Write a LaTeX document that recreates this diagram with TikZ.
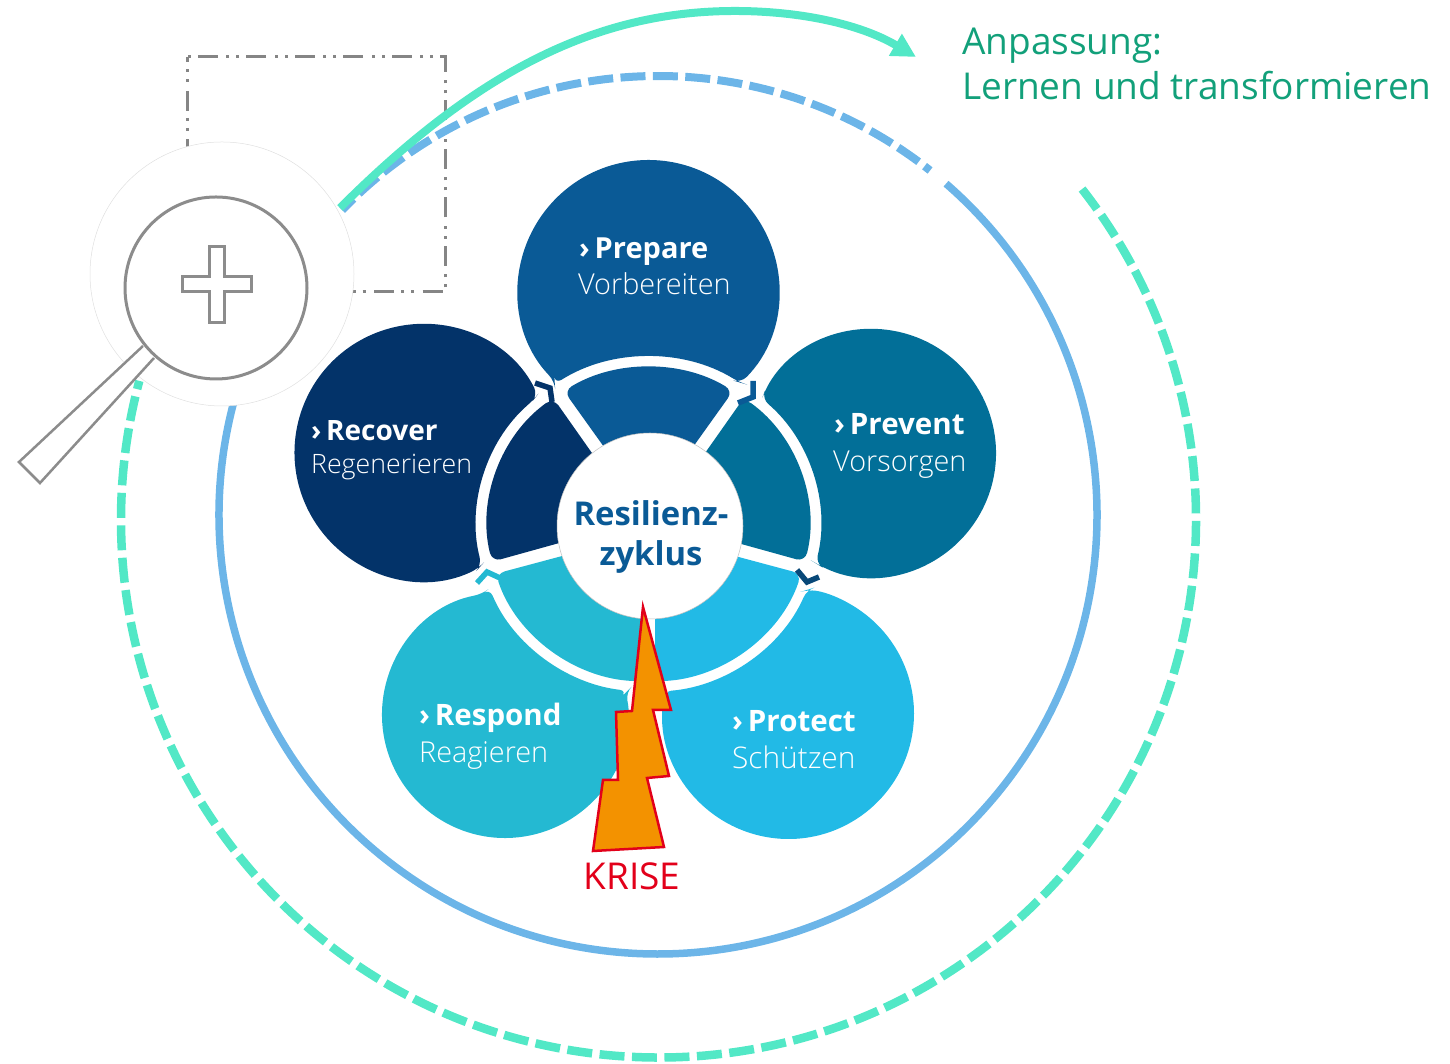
\documentclass[tikz,border=0pt]{standalone}
\usepackage{fontspec}
\setmainfont{Open Sans}
\newfontfamily\lightfont{Open Sans Light}
\usetikzlibrary{arrows.meta,calc}
\definecolor{prepcol}{HTML}{0A5A96}
\definecolor{recocol}{HTML}{033369}
\definecolor{prevcol}{HTML}{026F98}
\definecolor{respcol}{HTML}{24B9D2}
\definecolor{protcol}{HTML}{22BAE6}
\definecolor{loopblue}{HTML}{6CB5E8}
\definecolor{loopgreen}{HTML}{52E8C6}
\definecolor{adapttext}{HTML}{12A07A}
\definecolor{krisered}{HTML}{E2001A}
\definecolor{kriseorange}{HTML}{F39200}
\definecolor{lensgrey}{HTML}{8C8C8C}
\tikzset{
 head/.style={anchor=base west, inner sep=0pt, text=white, font=\fontsize{29.5}{32}\selectfont\bfseries},
 sub/.style={anchor=base west, inner sep=0pt, text=white, font=\fontsize{28.8}{32}\selectfont\lightfont},
 hub/.style={anchor=base, inner sep=0pt, text=prepcol, font=\fontsize{32.8}{36}\selectfont\bfseries},
 adapt/.style={anchor=base west, inner sep=0pt, text=adapttext, font=\fontsize{37}{40}\selectfont},
 chevron/.style={line width=5.5pt, miter limit=10}
}
\begin{document}
\begin{tikzpicture}[x=1pt,y=1pt]
 \useasboundingbox (0,0) rectangle (1450,1064);
 % zoom window
 \draw[lensgrey!95!black, line width=3pt, dash pattern=on 20pt off 7pt on 3pt off 7pt on 3pt off 8.5pt, dash phase=14.5pt] (187,1007) rectangle (445,772);
 % loops
 \draw[loopblue, line width=7.5pt] (658,549) ++(49:439) arc[start angle=49, end angle=-200, radius=439];
 \draw[loopblue, line width=8pt, dash pattern=on 25pt off 7.4pt, dash phase=18pt] (658,549) ++(51.7:439) arc[start angle=51.7, end angle=136, radius=439];
 \draw[loopgreen, line width=8.5pt, dash pattern=on 25pt off 7.5pt] (658.5,544) ++(38:537.5) arc[start angle=38, end angle=-195, radius=537.5];
 \coordinate (arrowstart) at (340,856);
 \coordinate (arrowend) at (916,1007);
 \draw[loopgreen, line width=8pt, -{Triangle[length=24pt,width=24pt]}] (arrowstart) .. controls (480,996) and (600,1053) .. (735,1053) .. controls (800,1053) and (860,1040) .. (arrowend);
 % petals
 \coordinate (ringc) at (648.5,539.5);
 \foreach \cx/\cy/\rad/\sa/\ea/\ra/\rb/\col in {
   648.5/773.5/130.5/-45/224/123/58/prepcol,
   872/611/124/244/509.5/48.7/-13.4/prevcol,
   788.5/350.5/125.5/170.5/441/-23/-85/protcol,
   505/349/123/100.7/370.6/263/202.4/respcol,
   423/611.5/128.5/26.8/295.7/194/132/recocol}
  \fill[\col, rounded corners=8pt] (\cx,\cy) ++(\sa:\rad) arc[start angle=\sa, end angle=\ea, radius=\rad] -- ($(ringc)+(\ra:172 and 167.5)$) arc[start angle=\ra, end angle=\rb, x radius=172, y radius=167.5] -- cycle;
 % inner sectors
 \begin{scope}[shift={(ringc)}]
  \foreach \sa/\ea/\col in {56/124/prepcol, -16/56/prevcol, -90/-16/protcol, 196/270/respcol, 124/196/recocol}
   \fill[\col, rounded corners=9pt] (\sa+4.8:80) -- (\sa+2.3:161 and 157) arc[start angle=\sa+2.3, end angle=\ea-2.3, x radius=161, y radius=157] -- (\ea-4.8:80) -- cycle;
 \end{scope}
 \draw[fill=white, draw=black!25, line width=.5pt] (650,538) circle[radius=93];
 \draw[recocol, chevron] (535,681) -- (550,676) -- (552,662);
 \draw[prepcol, chevron] (753,683) -- (753,667) -- (738,661);
 \draw[prepcol!80!black, chevron] (797,494) -- (807,482) -- (819,487);
 \draw[respcol, chevron] (477,481) -- (487,492) -- (500,486);
 % labels
 \node[head, font=\fontsize{29}{32}\selectfont\bfseries] (prepare) at (579,805) {›\,Prepare};
 \node[sub] (prepareDe) at (578,769) {Vorbereiten};
 \node[head] (prevent) at (834,629) {›\,Prevent};
 \node[sub] (preventDe) at (833,592) {Vorsorgen};
 \node[head] (protect) at (732,332) {›\,Protect};
 \node[sub, font=\fontsize{29.8}{32}\selectfont\lightfont] (protectDe) at (732,295) {Schützen};
 \node[head] (respond) at (419,338) {›\,Respond};
 \node[sub] (respondDe) at (419,301) {Reagieren};
 \node[head, font=\fontsize{28}{32}\selectfont\bfseries] (recover) at (311,623) {›\,Recover};
 \node[sub, font=\fontsize{26.7}{32}\selectfont\lightfont] (recoverDe) at (311,590) {Regenerieren};
 \node[hub] (hubA) at (651,538) {Resilienz-};
 \node[hub] (hubB) at (651,498) {zyklus};
 % crisis
 \draw[fill=kriseorange, draw=krisered, line width=2.5pt] (643,457) -- (671,354) -- (653,354) -- (669,288) -- (647,286) -- (664,217) -- (593,213) -- (603,284) -- (618,284) -- (616,352) -- (632,353) -- cycle;
 \node[anchor=base, inner sep=0pt, text=krisered, font=\fontsize{37}{40}\selectfont] (krise) at (632,174) {KRISE};
 % magnifier
 \draw[fill=white, draw=black!12, line width=.5pt] (222,790) circle[radius=132];
 \draw[fill=white, draw=lensgrey, line width=2.5pt] (143,718) -- (19,602) -- (40,581) -- (154,706);
 \draw[fill=white, draw=lensgrey, line width=3pt] (216,776) circle[radius=91];
 \draw[draw=lensgrey, line width=3pt] (209,817) -- (224,817) -- (224,787) -- (251,787) -- (251,772) -- (224,772) -- (224,741) -- (209,741) -- (209,772) -- (182,772) -- (182,787) -- (209,787) -- cycle;
 \node[adapt] (adaptA) at (962,1009) {Anpassung:};
 \node[adapt] (adaptB) at (962,964) {Lernen und transformieren};
\end{tikzpicture}
\end{document}
